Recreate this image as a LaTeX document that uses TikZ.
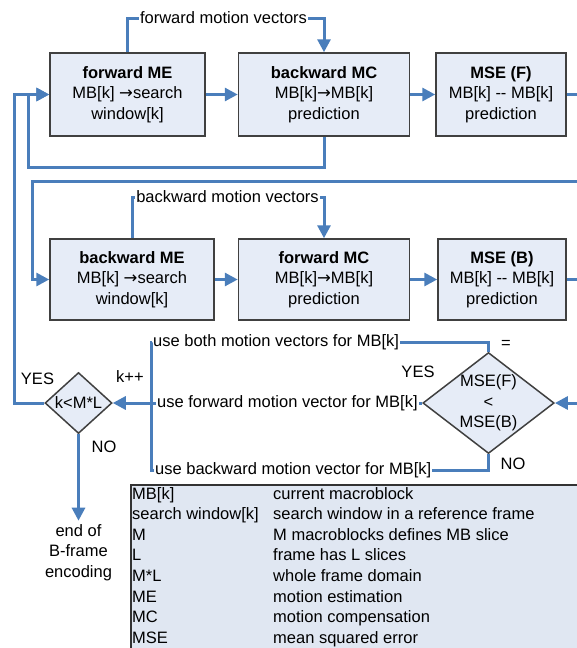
\documentclass[tikz,border=0pt]{standalone}
\usepackage{fontspec}
\setmainfont{Liberation Sans}
\newfontfamily\arrowfont{DejaVu Sans}
\usepackage{xcolor}
\usepackage{tikz}
\usetikzlibrary{arrows.meta}
\usetikzlibrary{shapes.geometric}
\usetikzlibrary{positioning}

\definecolor{flowblue}{HTML}{4A7EBB}
\definecolor{boxfill}{HTML}{E6ECF7}
\definecolor{keyfill}{HTML}{E0E7F2}
\newcommand{\toarrow}{{\arrowfont\char"2192}}

\begin{document}
\begin{tikzpicture}[x=1pt, y=-1pt,
        font=\fontsize{16.5}{20.6}\selectfont,
        block/.style={draw=black!75, line width=1.5pt, fill=boxfill, align=center, minimum height=83pt, inner sep=0pt},
        decision/.style={diamond, draw=black!75, line width=1.5pt, fill=boxfill, align=center, inner sep=0pt},
        flow/.style={draw=flowblue, line width=3pt},
        arrow/.style={flow, -{Triangle[length=13pt,width=13pt]}},
        tag/.style={inner sep=1pt}]
            \useasboundingbox (0,0) rectangle (577,648);

            \node[block, minimum width=155pt] (fme) at (127.5,94.5) {\textbf{forward ME}\\MB[k] \toarrow search\\window[k]};
            \node[block, minimum width=171pt, right=32pt of fme] (bmc) {\textbf{backward MC}\\MB[k]\toarrow MB[k]\\prediction};
            \node[block, minimum width=130pt, right=25pt of bmc] (msef) {\textbf{MSE (F)}\\MB[k] -{}- MB[k]\\prediction};

            \node[block, minimum width=164pt, minimum height=81pt] (bme) at (132,279.5) {\textbf{backward ME}\\MB[k] \toarrow search\\window[k]};
            \node[block, minimum width=171pt, minimum height=81pt, right=23pt of bme] (fmc) {\textbf{forward MC}\\MB[k]\toarrow MB[k]\\prediction};
            \node[block, minimum width=128pt, minimum height=81pt, right=27pt of fmc] (mseb) {\textbf{MSE (B)}\\MB[k] -{}- MB[k]\\prediction};

            \node[tag] (fmv) at (223.5,18) {forward motion vectors};
            \node[tag] (bmv) at (227.5,197) {backward motion vectors};

            \node[decision, minimum width=127pt, minimum height=98pt, aspect=1.3] (msecmp) at (488.5,403) {MSE(F)\\<\\MSE(B)};
            \node[decision, minimum width=67pt, minimum height=61pt, aspect=1.1] (kcmp) at (78.5,403) {k<M*L};

            \node[tag, anchor=west] (useboth) at (152,342) {use both motion vectors for MB[k]};
            \node[tag, anchor=west] (usefwd) at (156,403) {use forward motion vector for MB[k]};
            \node[tag, anchor=west] (usebwd) at (154,470) {use backward motion vector for MB[k]};
            \coordinate (kinc) at (151,403);

            \node (eq) at (506,344) {=};
            \node (yesr) at (418,372) {YES};
            \node (nor) at (513,464) {NO};
            \node (kpp) at (130,377) {k++};
            \node (yesl) at (37.5,379) {YES};
            \node (nol) at (104,447) {NO};

            \node[align=center] (endb) at (78.5,552.5) {end of\\B-frame\\encoding};

            \draw[draw=black!80, line width=1.5pt, fill=keyfill] (131,485) rectangle (600,670);
            \node[anchor=north west, inner sep=0pt] (key) at (132,484.5)
                {\begin{tabular}{@{}p{141pt}@{}l@{}}
                    MB[k] & current macroblock\\
                    search window[k] & search window in a reference frame\\
                    M & M macroblocks defines MB slice\\
                    L & frame has L slices\\
                    M*L & whole frame domain\\
                    ME & motion estimation\\
                    MC & motion compensation\\
                    MSE & mean squared error
                \end{tabular}};

            \draw[arrow] (fme) -- (bmc);
            \draw[arrow] (bmc) -- (msef);
            \draw[arrow] (bme) -- (fmc);
            \draw[arrow] (fmc) -- (mseb);
            \draw[arrow] (kinc) -- (kcmp.east);
            \draw[arrow] (kcmp.south) -- (endb.north);

            \draw[flow] (fme.north) |- (fmv.west);
            \draw[arrow] (fmv.east) -| (bmc.north);
            \draw[flow] (bme.north) |- (bmv.west);
            \draw[arrow] (bmv.east) -| (fmc.north);

            \draw[arrow] (msef.east) -- ++(22,0) |- (32,181) |- (bme.west);
            \draw[arrow] (mseb.east) -- ++(22,0) |- (msecmp.east);
            \draw[arrow] (bmc.south) |- (28,167) |- (fme.west);
            \draw[arrow] (kcmp.west) -| (14,94.5) -- (fme.west);

            \draw[flow] (msecmp.north) |- (useboth.east);
            \draw[flow] (msecmp.west) -- (usefwd.east);
            \draw[flow] (msecmp.south) |- (usebwd.east);
            \draw[flow] (useboth.west) -| (kinc);
            \draw[flow] (usefwd.west) -- (kinc);
            \draw[flow] (usebwd.west) -| (kinc);
        \end{tikzpicture}
\end{document}
